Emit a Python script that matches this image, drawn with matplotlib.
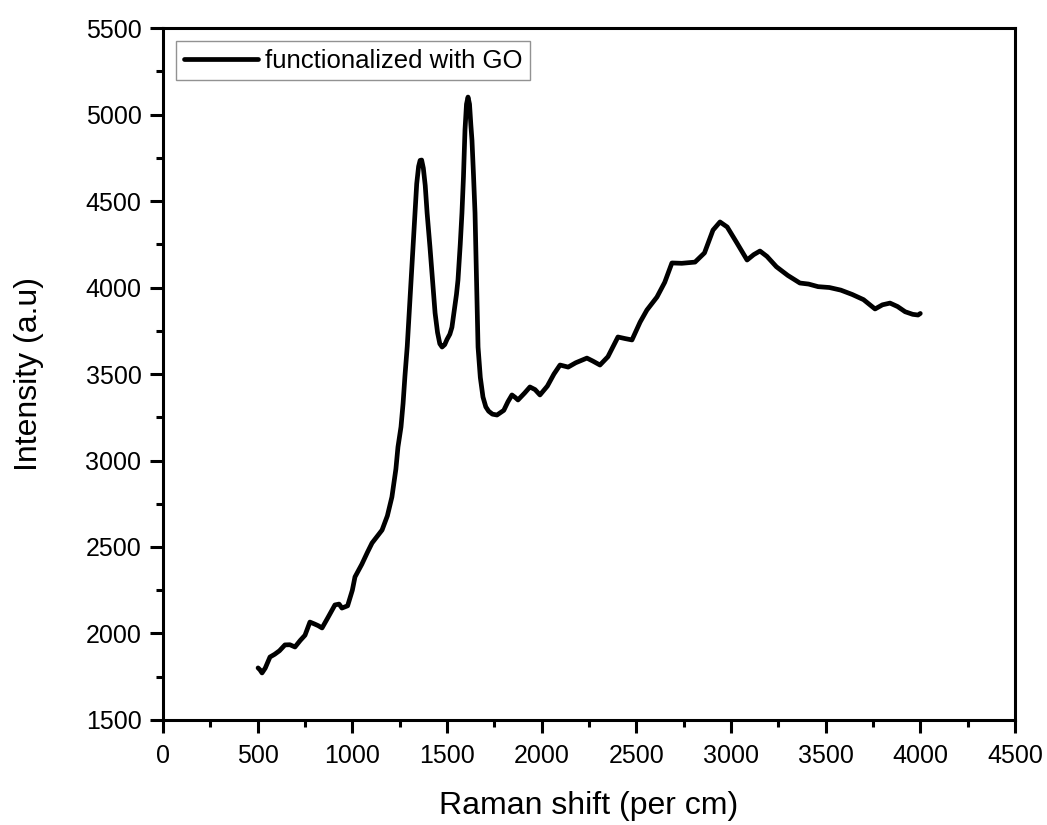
import numpy as np
import matplotlib.pyplot as plt
from matplotlib.ticker import MultipleLocator

plt.rcParams['font.family'] = ['Liberation Sans', 'DejaVu Sans']

# Raman spectrum, GO functionalized sample
shift = [502, 512, 523, 540, 565, 590, 615, 644, 670, 697, 725, 750, 776,
         800, 820, 840, 870, 908, 930, 945, 975, 1000, 1014, 1050, 1080,
         1104, 1130, 1157, 1185, 1209, 1230, 1241, 1257, 1268, 1278, 1290,
         1300, 1310, 1320, 1330, 1340, 1350, 1358, 1366, 1375, 1385, 1395,
         1410, 1425, 1437, 1450, 1462, 1474, 1488, 1500, 1515, 1526, 1540,
         1550, 1558, 1570, 1579, 1587, 1595, 1603, 1611, 1619, 1626, 1632,
         1640, 1648, 1656, 1664, 1676, 1690, 1705, 1720, 1740, 1764, 1800,
         1822, 1843, 1860, 1875, 1910, 1938, 1965, 1991, 2030, 2065, 2097,
         2140, 2180, 2239, 2270, 2308, 2350, 2403, 2440, 2477, 2520, 2556,
         2609, 2650, 2688, 2740, 2810, 2860, 2905, 2942, 2980, 3030, 3085,
         3120, 3153, 3190, 3240, 3300, 3364, 3410, 3460, 3520, 3580, 3640,
         3700, 3761, 3800, 3840, 3880, 3920, 3960, 3988, 4000]
intensity = [1801, 1790, 1772, 1800, 1864, 1880, 1900, 1934, 1935, 1922,
             1960, 1990, 2066, 2055, 2045, 2032, 2090, 2165, 2170, 2147,
             2160, 2250, 2327, 2400, 2470, 2523, 2560, 2598, 2680, 2789,
             2950, 3078, 3194, 3330, 3490, 3660, 3850, 4050, 4234, 4420,
             4600, 4700, 4735, 4737, 4690, 4590, 4430, 4234, 4020, 3853,
             3740, 3675, 3656, 3670, 3700, 3730, 3770, 3880, 3960, 4043,
             4250, 4431, 4640, 4910, 5060, 5101, 5060, 4940, 4850, 4650,
             4431, 4050, 3656, 3480, 3367, 3310, 3285, 3268, 3263, 3290,
             3340, 3379, 3365, 3350, 3390, 3425, 3410, 3379, 3430, 3500,
             3552, 3540, 3565, 3592, 3575, 3552, 3600, 3714, 3705, 3697,
             3800, 3870, 3945, 4030, 4142, 4140, 4147, 4200, 4332, 4379,
             4350, 4260, 4159, 4190, 4211, 4180, 4120, 4070, 4026, 4020,
             4005, 4000, 3985, 3960, 3930, 3876, 3900, 3910, 3890, 3860,
             3845, 3841, 3850]

fig = plt.figure(figsize=(10.47, 8.25), dpi=100)
ax = fig.add_axes([0.1557, 0.1273, 0.8137, 0.8387])

ax.plot(shift, intensity, color='black', lw=3.4, solid_joinstyle='round',
        solid_capstyle='round', label='functionalized with GO')

ax.set_xlim(0, 4500)
ax.set_ylim(1500, 5500)
ax.xaxis.set_major_locator(MultipleLocator(500))
ax.xaxis.set_minor_locator(MultipleLocator(250))
ax.yaxis.set_major_locator(MultipleLocator(500))
ax.yaxis.set_minor_locator(MultipleLocator(250))

for s in ax.spines.values():
    s.set_linewidth(2.2)
ax.tick_params(which='both', direction='out', top=False, right=False,
               width=2.2, labelsize=18, colors='black')
ax.tick_params(which='major', length=9.5)
ax.tick_params(which='minor', length=5)
ax.tick_params(axis='x', which='major', pad=8)
ax.tick_params(axis='y', which='major', pad=6)

ax.set_xlabel('Raman shift (per cm)', fontsize=23, labelpad=16)
ax.set_ylabel('Intensity (a.u)', fontsize=23, labelpad=30)

leg = ax.legend(loc='upper left', fontsize=18.5, frameon=True, fancybox=False,
                handlelength=2.9, handletextpad=0.25, borderpad=0.3,
                borderaxespad=0.5)
leg.get_frame().set_edgecolor('#777777')
leg.get_frame().set_linewidth(1.0)

fig.savefig('out.png', dpi=100)
